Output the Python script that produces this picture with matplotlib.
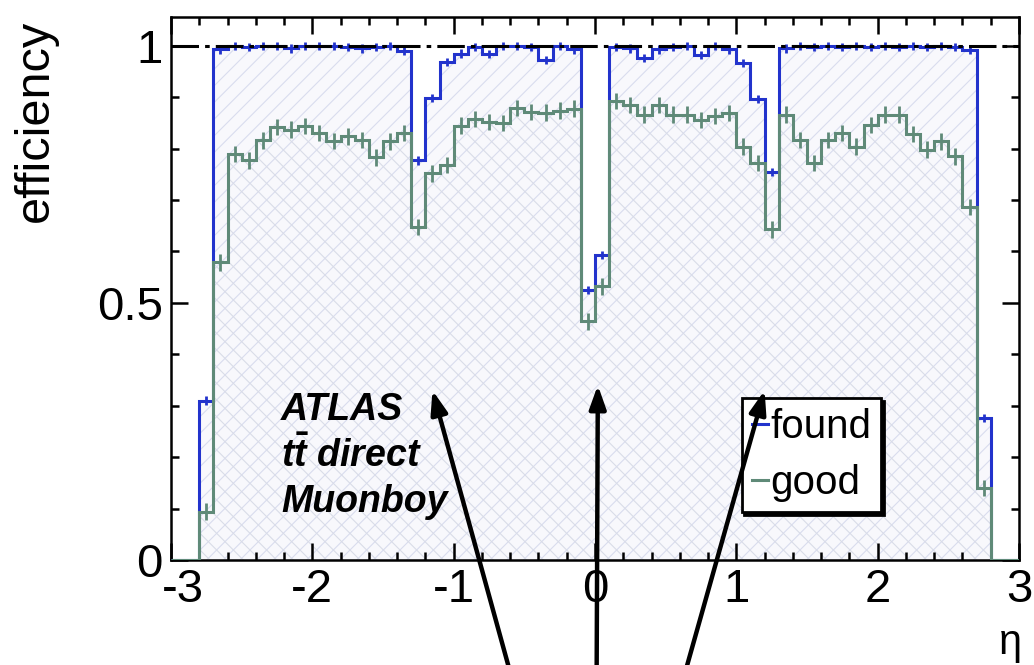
import numpy as np
import matplotlib
matplotlib.use('Agg')
import matplotlib.pyplot as plt
import matplotlib.transforms as mtransforms
from matplotlib.ticker import MultipleLocator

plt.rcParams['font.family'] = ['Liberation Sans', 'DejaVu Sans']
plt.rcParams['axes.unicode_minus'] = False
plt.rcParams['hatch.linewidth'] = 0.8
plt.rcParams['mathtext.fontset'] = 'custom'
plt.rcParams['mathtext.it'] = 'Liberation Sans:bold:italic'
plt.rcParams['mathtext.rm'] = 'Liberation Sans:bold'

# --- data: efficiency per eta bin (60 bins of 0.1 from -3 to 3) ---
eta_edges = np.round(np.linspace(-3, 3, 61), 2)

found = [0, 0, 0.31, 0.993,
         1.0, 0.998, 1.0, 1.0, 0.995, 1.0, 1.0, 1.0, 0.998, 0.995, 0.998, 1.0, 0.99,
         0.777, 0.898, 0.968, 0.985, 0.997, 0.984, 1.0, 1.0, 0.998, 0.973, 1.0, 0.993,
         0.525, 0.593,
         0.997, 0.995, 0.976, 0.993, 0.998, 1.0, 0.982, 1.0, 0.993, 0.966, 0.897, 0.755,
         0.995, 1.0, 0.997, 1.0, 0.998, 1.0, 0.997, 1.0, 0.998, 1.0, 0.997, 1.0, 0.997, 0.992,
         0.276, 0, 0]

good = [0, 0, 0.094, 0.579,
        0.790, 0.777, 0.816, 0.842, 0.837, 0.844, 0.830, 0.815, 0.824, 0.817, 0.783, 0.814, 0.830,
        0.648, 0.752, 0.768, 0.845, 0.858, 0.852, 0.850, 0.879, 0.871, 0.870, 0.874, 0.878,
        0.464, 0.532,
        0.893, 0.885, 0.866, 0.885, 0.866, 0.866, 0.856, 0.863, 0.869, 0.804, 0.772, 0.643,
        0.866, 0.817, 0.772, 0.817, 0.830, 0.804, 0.846, 0.866, 0.866, 0.828, 0.798, 0.814, 0.785, 0.686,
        0.14, 0, 0]

found_err = 0.008
good_err = 0.016

# gaps pointed at by the arrows (eta, efficiency)
arrow_eta = [-1.15, 0.02, 1.2]
arrow_eff = [0.33, 0.34, 0.33]
arrow_tail_x = [0.495, 0.577, 0.661]   # figure fraction, bottom edge

blue = '#2233cc'
green = '#5f8a78'

fig = plt.figure(figsize=(10.34, 6.65), dpi=100)
ax = fig.add_axes([0.1654, 0.1579, 0.8201, 0.8165])

found = np.array(found)
good = np.array(good)
centers = 0.5 * (eta_edges[:-1] + eta_edges[1:])

# hatched fills
ax.stairs(found, eta_edges, fill=True, facecolor='#f8f8fc', edgecolor='#d9dcee',
          hatch='//', linewidth=0, zorder=1)
ax.stairs(good, eta_edges, fill=True, facecolor='none', edgecolor='#d9dce8',
          hatch='\\\\', linewidth=0, zorder=1.1)

# histogram outlines + error bars
ax.stairs(found, eta_edges, color=blue, linewidth=2.2, zorder=3)
m = found > 0
ax.errorbar(centers[m], found[m], yerr=found_err, fmt='none', ecolor=blue,
            elinewidth=2.0, capsize=0, zorder=3)
ax.stairs(good, eta_edges, color=green, linewidth=2.2, zorder=4)
m = good > 0
ax.errorbar(centers[m], good[m], yerr=good_err, fmt='none', ecolor=green,
            elinewidth=2.0, capsize=0, zorder=4)

# line at efficiency = 1
ax.axhline(1.0, color='black', linewidth=2.2, linestyle=(0, (9, 2, 1.5, 2)), zorder=5)

ax.set_xlim(-3, 3)
ax.set_ylim(0, 1.056)

ax.xaxis.set_major_locator(MultipleLocator(1))
ax.xaxis.set_minor_locator(MultipleLocator(0.2))
ax.yaxis.set_major_locator(MultipleLocator(0.5))
ax.yaxis.set_minor_locator(MultipleLocator(0.1))
ax.yaxis.set_major_formatter(plt.FuncFormatter(lambda v, p: f'{v:g}'))
ax.xaxis.set_major_formatter(plt.FuncFormatter(lambda v, p: f'{v:g}'))
ax.tick_params(which='both', direction='in', top=True, right=True, width=1.8,
               labelsize=34)
ax.tick_params(which='major', length=12)
ax.tick_params(which='minor', length=6)
ax.tick_params(axis='x', pad=6)
ax.tick_params(axis='y', pad=6)
for s in ax.spines.values():
    s.set_linewidth(1.8)

# nudge the "-3" label right like the original, so it clears the "0"
fig.canvas.draw()
shift = mtransforms.ScaledTranslation(12 / 100, 0, fig.dpi_scale_trans)
for lbl in ax.get_xticklabels():
    if lbl.get_text() == '-3':
        lbl.set_transform(lbl.get_transform() + shift)

fig.text(0.034, 0.97, 'efficiency', rotation=90, ha='center', va='top', fontsize=35)
fig.text(0.988, 0.003, 'η', ha='right', va='bottom', fontsize=30)

# labels
ax.text(0.13, 0.31, 'ATLAS\n$t\\bar{t}$ direct\nMuonboy', transform=ax.transAxes,
        fontsize=27, fontweight='bold', fontstyle='italic', va='top', ha='left',
        linespacing=1.3, zorder=6)

leg = ax.legend(handles=[plt.Line2D([], [], color=blue, lw=2.2),
                         plt.Line2D([], [], color=green, lw=2.2)],
                labels=['found', 'good'], loc='upper left',
                bbox_to_anchor=(0.673, 0.298), borderaxespad=0, fontsize=29,
                handlelength=0.4, handletextpad=0.05, labelspacing=0.45,
                borderpad=0.25, fancybox=False, framealpha=1, edgecolor='black',
                shadow={'facecolor': 'black', 'edgecolor': 'black', 'alpha': 1})
leg.get_frame().set_linewidth(2.0)
leg.set_zorder(7)

# arrows from below the plot to the gaps
for e, v, tx in zip(arrow_eta, arrow_eff, arrow_tail_x):
    ax.annotate('', xy=(e, v), xycoords='data', xytext=(tx, -0.02),
                textcoords='figure fraction',
                arrowprops=dict(arrowstyle='-|>,head_length=1.4,head_width=0.5',
                                color='black', lw=3.2, shrinkA=0, shrinkB=0),
                annotation_clip=False, zorder=8)

fig.savefig('out.png', dpi=100)
